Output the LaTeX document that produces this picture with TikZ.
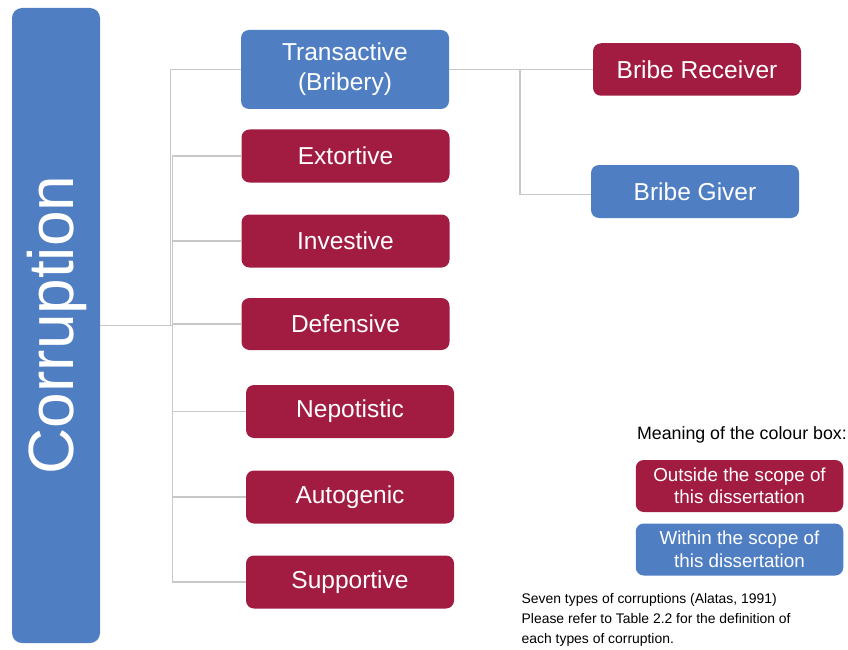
\documentclass[tikz,border=0pt]{standalone}
\usepackage{fontspec}
\setmainfont{Liberation Sans}
\definecolor{crim}{RGB}{162,28,66}
\definecolor{sblue}{RGB}{80,126,194}
\definecolor{conn}{RGB}{200,200,200}
\begin{document}
\begin{tikzpicture}[x=1pt,y=-1pt,
  box/.style={rectangle,rounded corners=8pt,draw=none,text=white,align=center,inner sep=0pt,
    minimum width=208pt,minimum height=53pt,font=\fontsize{24.5}{30}\selectfont},
  redbox/.style={box,fill=crim},
  bluebox/.style={box,fill=sblue},
  legbox/.style={box,minimum width=207.5pt,minimum height=52pt,font=\fontsize{18.8}{22.5}\selectfont},
  link/.style={draw=conn,line width=1.1pt}]
\useasboundingbox (0,0) rectangle (848,650);
% main box
\node[bluebox,minimum width=88pt,minimum height=635pt,rounded corners=10pt] (corr) at (56,325.5) {};
\node[text=white,rotate=90,font=\fontsize{64}{70}\selectfont,inner sep=0pt] (corrt) at (57,325) {Corruption};
% types
\node[bluebox,minimum height=79pt] (tr) at (345,69.5) {Transactive\\(Bribery)};
\node[redbox] (ex) at (345.5,156) {Extortive};
\node[redbox] (inv) at (345.5,241) {Investive};
\node[redbox,minimum height=52pt] (def) at (345.5,324) {Defensive};
\node[redbox] (nep) at (350,411.5) {Nepotistic};
\node[redbox] (aut) at (350,497) {Autogenic};
\node[redbox] (sup) at (350,582) {Supportive};
% bribery
\node[redbox,minimum height=52.5pt] (br) at (697,69.5) {Bribe Receiver};
\node[bluebox] (bg) at (695,191.5) {Bribe Giver};
% connectors
\coordinate (j0) at (170.5,325.5);
\coordinate (j1) at (172.5,325.5);
\coordinate (j2) at (520,69.5);
\draw[link] (corr.east) -- (j1);
\draw[link] (j0) |- (tr.west);
\draw[link] (j1) |- (ex.west);
\draw[link] (j1) |- (inv.west);
\draw[link] (j1) |- (def.west);
\draw[link] (j1) |- (nep.west);
\draw[link] (j1) |- (aut.west);
\draw[link] (j1) |- (sup.west);
\draw[link] (tr.east) -- (j2) -- (br.west);
\draw[link] (j2) |- ([yshift=-3pt]bg.west);
% legend
\node[anchor=east,inner sep=0pt,font=\fontsize{17.8}{21}\selectfont] (mean) at (847,435) {Meaning of the colour box:};
\node[legbox,fill=crim] (out) at (739.5,486) {Outside the scope of\\this dissertation};
\node[legbox,fill=sblue] (with) at (739.5,549.5) {Within the scope of\\this dissertation};
\node[anchor=north west,inner sep=0pt,align=left,font=\fontsize{13.9}{19.7}\selectfont] (note) at (521.5,593.5)
  {Seven types of corruptions (Alatas, 1991)\\Please refer to Table 2.2 for the definition of\\each types of corruption.};
\end{tikzpicture}
\end{document}
